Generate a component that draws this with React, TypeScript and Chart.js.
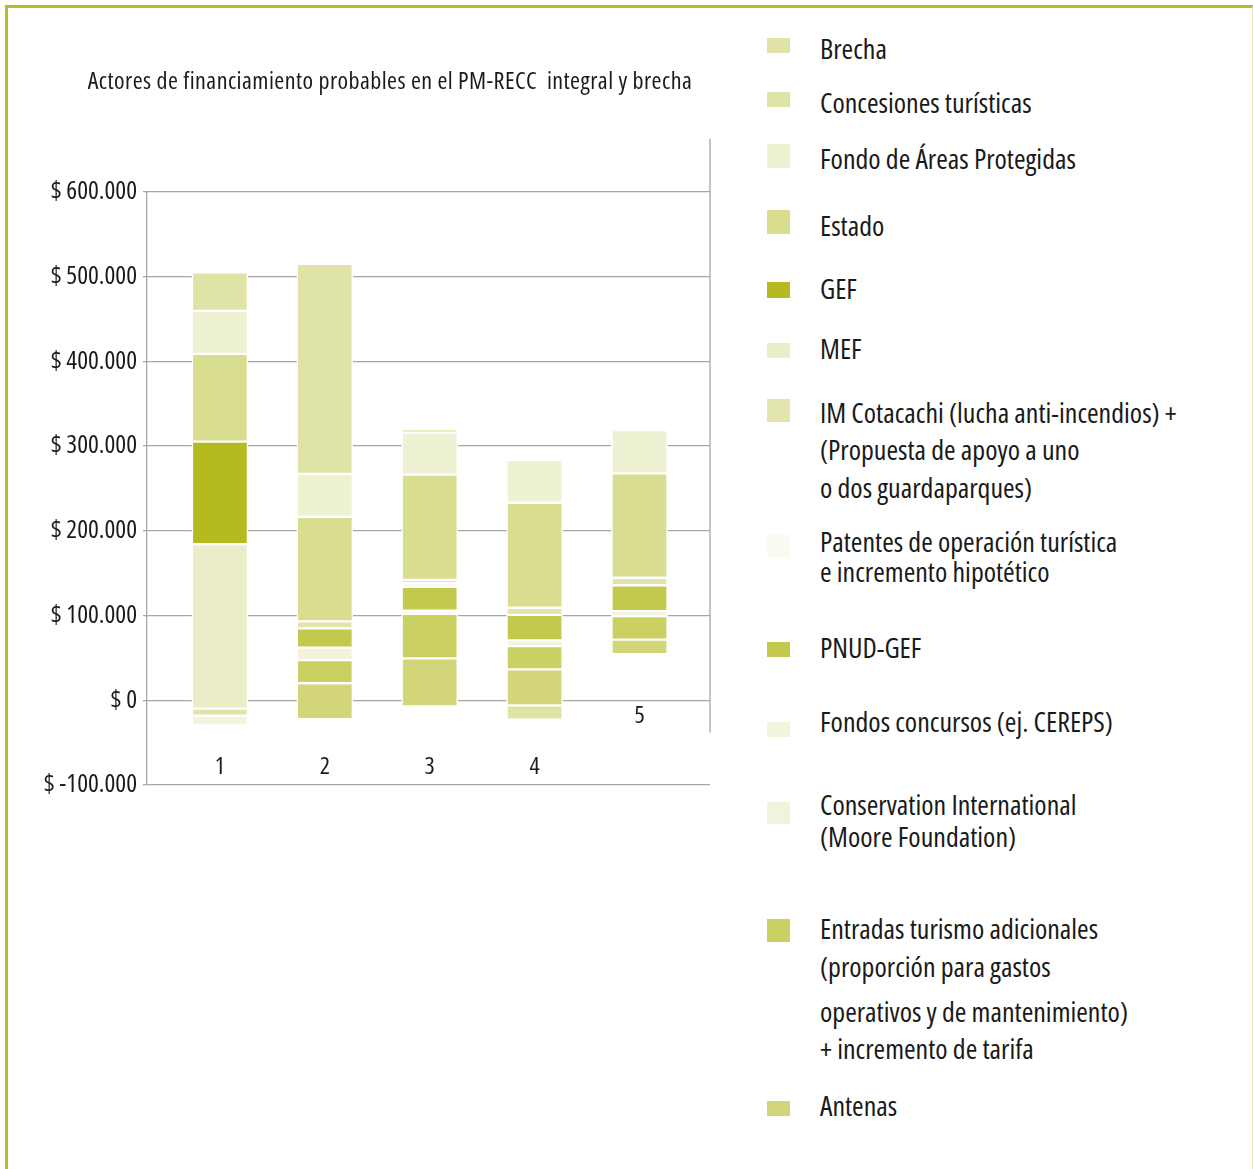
import React, { useEffect, useRef } from 'react';
import { Chart, registerables } from 'chart.js';

Chart.register(...registerables);

// ---------- data ----------
const categories = ['1', '2', '3', '4', '5'];
const categoryPositions = [1, 2, 3, 4, 5];
const categoryLabelY = [-79000, -79000, -79000, -79000, -19000];

const chartTitle = 'Actores de financiamiento probables en el PM-RECC  integral y brecha';

const seriesLabels: string[][] = [
  ['Brecha'],
  ['Concesiones turísticas'],
  ['Fondo de Áreas Protegidas'],
  ['Estado'],
  ['GEF'],
  ['MEF'],
  ['IM Cotacachi (lucha anti-incendios) +', '(Propuesta de apoyo a uno', 'o dos guardaparques)'],
  ['Patentes de operación turística', 'e incremento hipotético'],
  ['PNUD-GEF'],
  ['Fondos concursos (ej. CEREPS)'],
  ['Conservation International', '(Moore Foundation)'],
  ['Entradas turismo adicionales', '(proporción para gastos', 'operativos y de mantenimiento)', '+ incremento de tarifa'],
  ['Antenas'],
];

const seriesColors = [
  '#dfe4a6', '#dfe4a6', '#eff1d3', '#d9dd8f', '#b3bb20', '#ebedc6', '#e1e4ae',
  '#fafbf0', '#c3c94c', '#f3f4de', '#f1f3dc', '#cbd062', '#d2d678',
];

type Range = [number, number] | null;
const brecha: Range[] = [[459700, 505300], [267100, 515100], [316000, 320100], null, null];
const concesiones: Range[] = [[-18300, -9800], null, null, [-23000, -6000], null];
const fondoAreas: Range[] = [[409000, 459700], [216700, 267100], [266300, 316000], [233200, 283800], [267800, 318900]];
const estado: Range[] = [[305300, 409000], [93100, 216700], [142200, 266300], [109200, 233200], [144600, 267800]];
const gef: Range[] = [[184200, 305300], null, null, null, null];
const mef: Range[] = [[-9800, 184200], null, null, null, null];
const imCotacachi: Range[] = [null, [84800, 93100], [138200, 142200], [100900, 109200], [135800, 144600]];
const patentes: Range[] = [null, null, null, null, null];
const pnudGef: Range[] = [null, [62100, 84800], [105700, 134000], [70700, 100900], [105300, 135800]];
const fondosConcursos: Range[] = [[-29800, -18300], null, [134000, 138200], null, null];
const conservation: Range[] = [null, [47400, 62100], [102200, 105700], [63900, 70700], [99400, 105300]];
const entradas: Range[] = [null, [20100, 47400], [49500, 102200], [36400, 63900], [71600, 99400]];
const antenas: Range[] = [null, [-22300, 20100], [-7300, 49500], [-6000, 36400], [54500, 71600]];

const seriesValues: Range[][] = [
  brecha, concesiones, fondoAreas, estado, gef, mef, imCotacachi,
  patentes, pnudGef, fondosConcursos, conservation, entradas, antenas,
];

const yMin = -100000;
const yMax = 600000;
const yStep = 100000;
const rightLineTop = 663000;
const rightLineBottom = -38000;

// ---------- layout / style ----------
const FONT = "'Open Sans', 'DejaVu Sans Condensed', sans-serif";
const TEXT = '#1a1a1a';
const GRID = '#a6a6a6';
const FRAME = '#b5bd22';

const legendSquares: [number, number][] = [
  [38, 15], [92, 15], [144, 24], [210, 24], [282, 16], [343, 15], [399, 23],
  [535, 22], [642, 15], [722, 15], [802, 22], [919, 23], [1101, 15],
];
const legendBaselines: number[][] = [
  [59], [113], [169], [236], [299], [359], [423, 460, 498], [552, 582], [658], [732],
  [815, 847], [939, 977, 1022, 1059], [1116],
];

function fmt(v: number): string {
  const s = Math.abs(v).toString().replace(/\B(?=(\d{3})+(?!\d))/g, '.');
  return '$ ' + (v < 0 ? '-' : '') + s;
}

function setFont(ctx: any, size: number, stretch: string) {
  ctx.font = `${stretch} ${size}px ${FONT}`;
  if ('fontStretch' in ctx) ctx.fontStretch = stretch;
}

const overlayPlugin = {
  id: 'overlay',
  afterDraw(chart: any) {
    const { ctx, chartArea } = chart;
    const x = chart.scales.x;
    const y = chart.scales.y;
    ctx.save();
    ctx.strokeStyle = GRID;
    ctx.lineWidth = 1.3;
    ctx.beginPath();
    ctx.moveTo(chartArea.right, y.getPixelForValue(rightLineTop));
    ctx.lineTo(chartArea.right, y.getPixelForValue(rightLineBottom));
    ctx.stroke();

    ctx.fillStyle = TEXT;
    setFont(ctx, 24, 'condensed');
    if ('letterSpacing' in ctx) ctx.letterSpacing = '0.45px';
    ctx.textAlign = 'center';
    ctx.textBaseline = 'alphabetic';
    ctx.fillText(chartTitle, 390, 89);
    if ('letterSpacing' in ctx) ctx.letterSpacing = '0px';

    setFont(ctx, 24, 'condensed');
    ctx.textBaseline = 'middle';
    categories.forEach((c, i) => {
      ctx.fillText(c, x.getPixelForValue(categoryPositions[i]), y.getPixelForValue(categoryLabelY[i]));
    });
    ctx.restore();
  },
};

export default function App() {
  const ref = useRef<HTMLCanvasElement | null>(null);

  useEffect(() => {
    if (!ref.current) return;
    const datasets = seriesLabels.map((lines, s) => ({
      label: lines.join(' '),
      backgroundColor: seriesColors[s],
      data: seriesValues[s]
        .map((r, i) => (r ? { x: categoryPositions[i], y: r } : null))
        .filter((p) => p !== null),
    }));
    const chart = new Chart(ref.current, {
      type: 'bar',
      data: { datasets: datasets as any },
      options: {
        animation: false,
        responsive: false,
        devicePixelRatio: 1,
        layout: { padding: { left: 0, right: 30, top: 192, bottom: 45 } },
        datasets: {
          bar: {
            grouped: false,
            barThickness: 56,
            borderWidth: 1.5,
            borderColor: '#ffffff',
            borderSkipped: false,
          } as any,
        },
        scales: {
          x: {
            type: 'linear',
            display: false,
            offset: false,
            min: 0.305,
            max: 5.672,
          },
          y: {
            min: yMin,
            max: yMax,
            afterFit(scale: any) {
              scale.width = 147;
            },
            ticks: {
              stepSize: yStep,
              padding: 6,
              color: TEXT,
              font: { family: FONT, size: 25.5, weight: 'condensed' as any },
              callback: (v: any) => fmt(Number(v)),
            },
            grid: { color: GRID, lineWidth: 1.3, tickLength: 4, drawTicks: true },
            border: { display: true, color: GRID, width: 1.3 },
          },
        },
        plugins: {
          legend: { display: false },
          tooltip: { enabled: false },
          title: { display: false },
        },
      },
      plugins: [overlayPlugin],
    });
    return () => chart.destroy();
  }, []);

  return (
    <div style={{ position: 'absolute', left: 0, top: 0, width: 1253, height: 1169, overflow: 'hidden', background: '#fff' }}>
      <div
        style={{
          position: 'absolute', left: 5, top: 5, width: 1244, height: 1200,
          borderTop: `3px solid ${FRAME}`, borderLeft: `3px solid ${FRAME}`, borderRight: '1px solid #e4e8a8',
        }}
      />
      <canvas ref={ref} width={740} height={830} style={{ position: 'absolute', left: 0, top: 0, width: 740, height: 830 }} />
      {seriesLabels.map((lines, s) => (
        <React.Fragment key={s}>
          <div
            style={{
              position: 'absolute', left: 767, top: legendSquares[s][0], width: 23,
              height: legendSquares[s][1], background: seriesColors[s],
            }}
          />
          {lines.map((t, j) => (
            <div
              key={j}
              style={{
                position: 'absolute', left: 820, top: legendBaselines[s][j] - 25,
                fontFamily: FONT, fontStretch: 'condensed', fontSize: 28, lineHeight: '28px', color: TEXT,
                whiteSpace: 'nowrap',
              }}
            >
              {t}
            </div>
          ))}
        </React.Fragment>
      ))}
    </div>
  );
}
